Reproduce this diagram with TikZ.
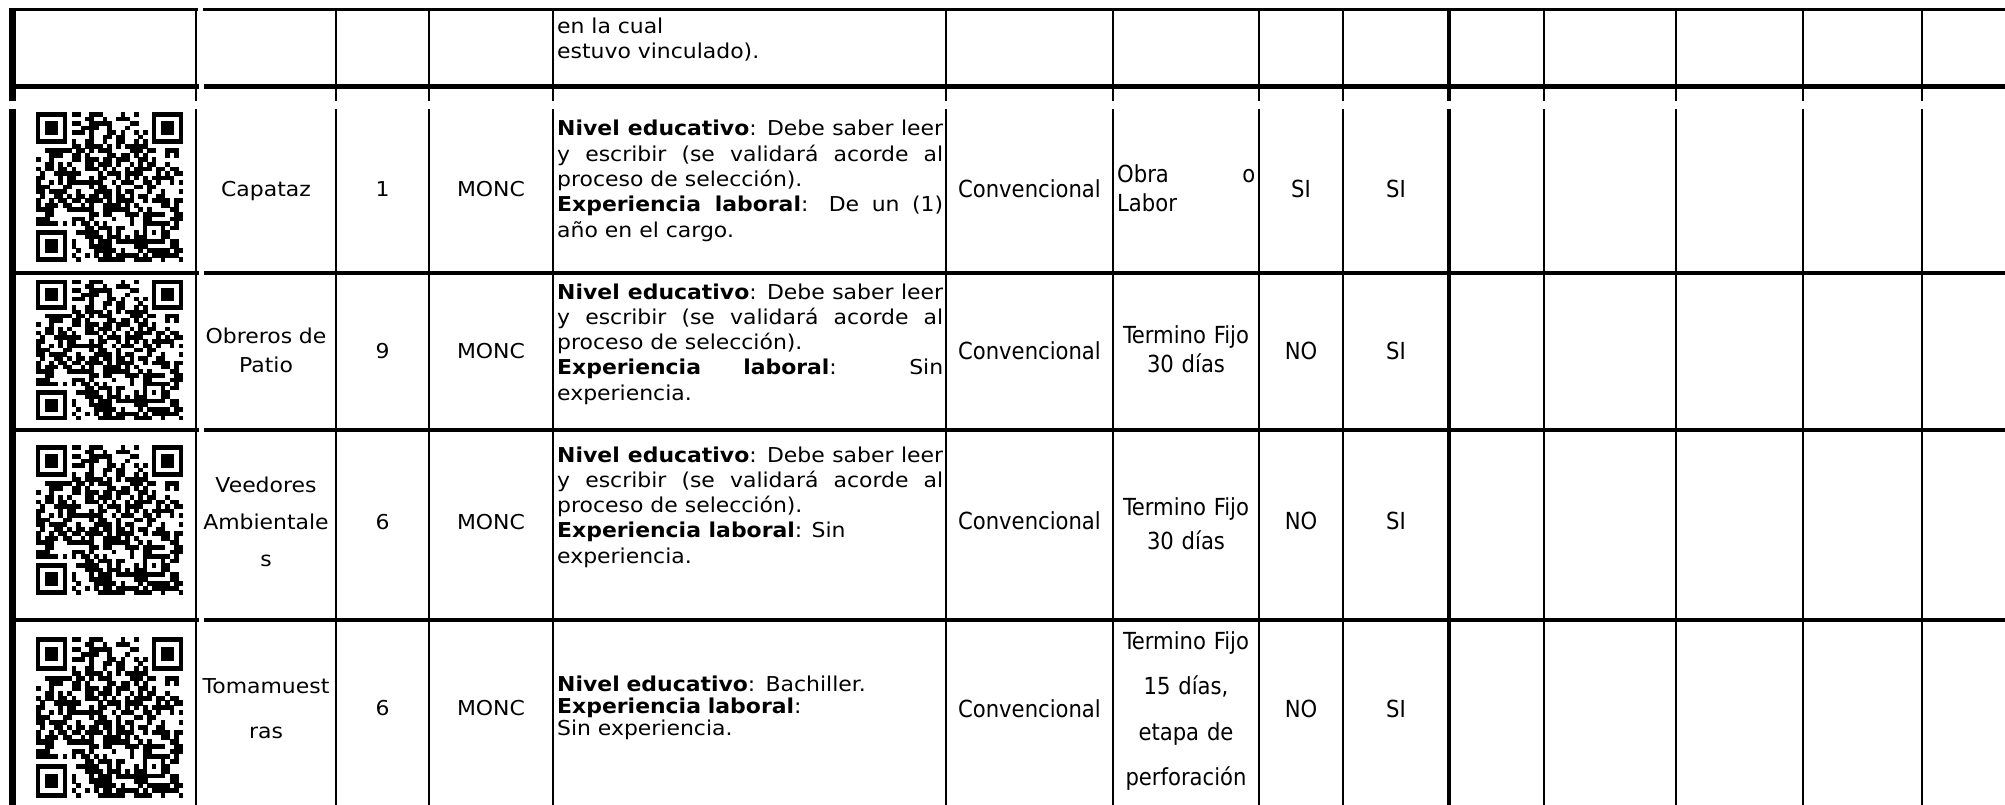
\documentclass[tikz,border=0pt]{standalone}
\usepackage{fontspec}
\setmainfont{DejaVu Sans}[FakeStretch=1.07]
\newfontfamily\tahfont{DejaVu Sans Condensed}
\newcommand{\qrblock}[4]{%
  \begin{scope}[shift={(#1,#2)}, xscale=#3/33, yscale=#4/33]
    \pgfmathsetseed{7}
    \foreach \i in {0,...,32}{
      \foreach \j in {0,...,32}{
        \pgfmathtruncatemacro{\qron}{(rnd<0.5)*(1-(\i<8)*(\j<8))*(1-(\i>24)*(\j<8))*(1-(\i<8)*(\j>24))*(1-(\i>23)*(\i<29)*(\j>23)*(\j<29))}
        \ifnum\qron=1 \fill (\i,\j) rectangle ++(1.04,1.04);\fi
      }
    }
    \foreach \a/\b in {0/0,26/0,0/26}{
      \fill (\a,\b) rectangle ++(7,7);
      \fill[white] (\a+1,\b+1) rectangle ++(5,5);
      \fill (\a+2,\b+2) rectangle ++(3,3);
    }
    \fill (24,24) rectangle ++(5,5);
    \fill[white] (25,25) rectangle ++(3,3);
    \fill (26,26) rectangle ++(1,1);
  \end{scope}}
\begin{document}
\begin{tikzpicture}[x=1pt, y=-1pt,
    gridline/.style={line width=2.5pt},
    heavyline/.style={line width=4.5pt},
    txt/.style={inner sep=0pt, font=\fontsize{20.5}{#1}\selectfont},
    txt/.default=25.3,
    tah/.style={inner sep=0pt, font=\tahfont\fontsize{23.5}{#1}\selectfont},
    tah/.default=29,
    req/.style={anchor=base west, text width=386pt, align=justify},
    namebox/.style={anchor=base, text width=140pt, align=center},
    termbox/.style={anchor=base, text width=146pt, align=center}
  ]
    \fill[white] (0,0) rectangle (2005,805);
    \useasboundingbox (0,0) rectangle (2005,805);

    \qrblock{36}{112}{147}{150}
    \qrblock{36}{280}{147}{140}
    \qrblock{36}{445}{147}{150}
    \qrblock{36}{637}{147}{161}

    \draw[line width=3pt] (9,9.5) -- (198,9.5) (203,9.5) -- (2005,9.5);
    \foreach \ry in {86.5,273,430,620}
      \draw[heavyline] (9,\ry) -- (199,\ry) (204,\ry) -- (2005,\ry);
    \foreach \cx in {196,336,429,553,946,1113,1259,1343,1544,1676,1803,1922}
      \draw[gridline] (\cx,8) -- (\cx,101) (\cx,109) -- (\cx,805);
    \draw[heavyline] (1449,8) -- (1449,101) (1449,109) -- (1449,805);
    \draw[line width=7.5pt] (12.5,8) -- (12.5,101) (12.5,109) -- (12.5,805);

    \node[txt=25, anchor=base west, text width=386pt, align=left] (prev) at (557,34) {en la cual\\estuvo vinculado).};

    \node[txt, anchor=base] (cap) at (266,197) {Capataz};
    \node[txt, anchor=base] (capn) at (382.5,197) {1};
    \node[txt, anchor=base] (capt) at (491,197) {MONC};
    \node[txt, req] (capr) at (557,136) {\textbf{Nivel educativo}: Debe saber leer\linebreak y escribir (se validará acorde al\linebreak proceso de selección).\\\textbf{Experiencia laboral}: De un (1)\linebreak año en el cargo.};
    \node[tah, anchor=base] (capc) at (1029.5,198) {Convencional};
    \node[tah, anchor=base west, text width=138pt, align=justify] (capk) at (1117,183) {Obra o\linebreak Labor};
    \node[tah, anchor=base] (caps) at (1301,198) {SI};
    \node[tah, anchor=base] (capv) at (1396,198) {SI};

    \node[txt=29, namebox] (obr) at (266,343) {Obreros de\\Patio};
    \node[txt, anchor=base] (obrn) at (382.5,358) {9};
    \node[txt, anchor=base] (obrt) at (491,358) {MONC};
    \node[txt, req] (obrr) at (557,299) {\textbf{Nivel educativo}: Debe saber leer\linebreak y escribir (se validará acorde al\linebreak proceso de selección).\\\textbf{Experiencia laboral}: Sin\linebreak experiencia.};
    \node[tah, anchor=base] (obrc) at (1029.5,359) {Convencional};
    \node[tah=29, termbox] (obrk) at (1186,343) {Termino Fijo\\30 días};
    \node[tah, anchor=base] (obrs) at (1301,359) {NO};
    \node[tah, anchor=base] (obrv) at (1396,359) {SI};

    \node[txt=37, namebox] (vee) at (266,492) {Veedores\\Ambientale\\s};
    \node[txt, anchor=base] (veen) at (382.5,529) {6};
    \node[txt, anchor=base] (veet) at (491,529) {MONC};
    \node[txt, req] (veer) at (557,462) {\textbf{Nivel educativo}: Debe saber leer\linebreak y escribir (se validará acorde al\linebreak proceso de selección).\\\textbf{Experiencia laboral}: Sin\\experiencia.};
    \node[tah, anchor=base] (veec) at (1029.5,529) {Convencional};
    \node[tah=34, termbox] (veek) at (1186,515) {Termino Fijo\\30 días};
    \node[tah, anchor=base] (vees) at (1301,529) {NO};
    \node[tah, anchor=base] (veev) at (1396,529) {SI};

    \node[txt=45, namebox] (tom) at (266,693) {Tomamuest\\ras};
    \node[txt, anchor=base] (tomn) at (382.5,715) {6};
    \node[txt, anchor=base] (tomt) at (491,715) {MONC};
    \node[txt=22, req, align=left] (tomr) at (557,691) {\textbf{Nivel educativo}: Bachiller.\\\textbf{Experiencia laboral}:\\Sin experiencia.};
    \node[tah, anchor=base] (tomc) at (1029.5,717) {Convencional};
    \node[tah=45.6, termbox] (tomk) at (1186,649) {Termino Fijo\\15 días,\\etapa de\\perforación};
    \node[tah, anchor=base] (toms) at (1301,717) {NO};
    \node[tah, anchor=base] (tomv) at (1396,717) {SI};
\end{tikzpicture}
\end{document}
